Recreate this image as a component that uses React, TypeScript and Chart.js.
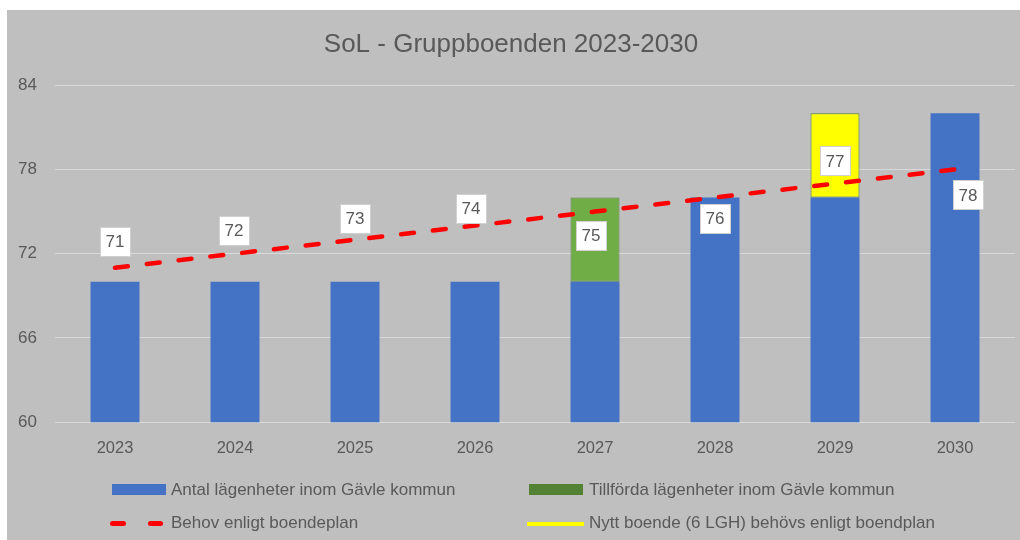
import React, { useEffect, useRef } from "react";
import { Chart, registerables } from "chart.js";

Chart.register(...registerables);

const categories = ["2023", "2024", "2025", "2026", "2027", "2028", "2029", "2030"];
const antalLgh = [70, 70, 70, 70, 70, 76, 76, 82];
const tillfordaLgh = [null, null, null, null, 6, null, null, null];
const nyttBoende = [null, null, null, null, null, null, 6, null];
const behov = [71, 72, 73, 74, 75, 76, 77, 78];
const yMin = 60;
const yMax = 84;
const yStep = 6;

const seriesNames = [
  "Antal lägenheter inom Gävle kommun",
  "Tillförda lägenheter inom Gävle kommun",
  "Behov enligt boendeplan",
  "Nytt boende (6 LGH) behövs enligt boendplan",
];

// label placement relative to each line point (dx, dy)
const labelOffsets: [number, number][] = [
  [0, -26],
  [-1, -23],
  [0, -21],
  [-4, -17],
  [-4, 24],
  [0, 21],
  [0, -22],
  [13, 26],
];

const FONT = "'Liberation Sans', Arial, sans-serif";
const TEXT = "#595959";

const labelPlugin = {
  id: "boxLabels",
  afterDatasetsDraw(chart: any) {
    const idx = chart.data.datasets.findIndex((d: any) => d.type === "line");
    if (idx < 0) return;
    const meta = chart.getDatasetMeta(idx);
    const ctx = chart.ctx;
    ctx.save();
    ctx.font = `17px ${FONT}`;
    ctx.textAlign = "center";
    ctx.textBaseline = "middle";
    meta.data.forEach((pt: any, i: number) => {
      const [dx, dy] = labelOffsets[i] || [0, -24];
      const cx = pt.x + dx;
      const cy = pt.y + dy;
      const w = 31;
      const h = 30;
      ctx.fillStyle = "#ffffff";
      ctx.fillRect(Math.round(cx - w / 2), Math.round(cy - h / 2), w, h);
      ctx.strokeStyle = "#d0d0d0";
      ctx.lineWidth = 1;
      ctx.strokeRect(Math.round(cx - w / 2) + 0.5, Math.round(cy - h / 2) + 0.5, w - 1, h - 1);
      ctx.fillStyle = TEXT;
      ctx.fillText(String(chart.data.datasets[idx].data[i]), cx, cy + 1);
    });
    ctx.restore();
  },
};

export default function App() {
  const ref = useRef<HTMLCanvasElement | null>(null);

  useEffect(() => {
    if (!ref.current) return;
    const chart = new Chart(ref.current, {
      type: "bar",
      data: {
        labels: categories,
        datasets: [
          {
            type: "line",
            label: seriesNames[2],
            data: behov,
            borderColor: "#ff0000",
            borderWidth: 4.5,
            borderDash: [13, 19],
            borderCapStyle: "round",
            pointRadius: 0,
            fill: false,
            stack: "line",
            order: 0,
          } as any,
          {
            label: seriesNames[0],
            data: antalLgh,
            backgroundColor: "#4472c4",
            stack: "bars",
            order: 1,
            categoryPercentage: 0.8,
            barPercentage: 0.51,
          },
          {
            label: seriesNames[1],
            data: tillfordaLgh,
            backgroundColor: "#70ad47",
            borderColor: "#548235",
            borderWidth: 1,
            borderSkipped: false,
            stack: "bars",
            order: 1,
            categoryPercentage: 0.8,
            barPercentage: 0.51,
          },
          {
            label: seriesNames[3],
            data: nyttBoende,
            backgroundColor: "#ffff00",
            borderColor: "#548235",
            borderWidth: 1,
            borderSkipped: false,
            stack: "bars",
            order: 1,
            categoryPercentage: 0.8,
            barPercentage: 0.51,
          },
        ],
      },
      options: {
        animation: false,
        responsive: false,
        devicePixelRatio: 1,
        layout: { padding: { left: 0, right: 5, top: 0, bottom: 66 } },
        plugins: {
          legend: { display: false },
          tooltip: { enabled: false },
          title: {
            display: true,
            text: "SoL - Gruppboenden 2023-2030",
            color: TEXT,
            font: { family: FONT, size: 26, weight: "normal" },
            padding: { top: 19, bottom: 25 },
          },
        },
        scales: {
          x: {
            stacked: true,
            grid: { display: false, drawTicks: false },
            border: { display: false },
            ticks: { color: TEXT, font: { family: FONT, size: 16.5 }, padding: 16 },
          },
          y: {
            stacked: true,
            min: yMin,
            max: yMax,
            grid: { color: "#d9d9d9", lineWidth: 1, drawTicks: false },
            border: { display: false },
            ticks: { stepSize: yStep, color: TEXT, font: { family: FONT, size: 17 }, padding: 18 },
            afterFit: (scale: any) => {
              scale.width = 48;
            },
          },
        },
      },
      plugins: [labelPlugin],
    });
    return () => chart.destroy();
  }, []);

  const legendText: React.CSSProperties = {
    position: "absolute",
    fontFamily: FONT,
    fontSize: 17,
    color: TEXT,
    lineHeight: "20px",
    whiteSpace: "nowrap",
  };

  return (
    <div
      style={{
        position: "fixed",
        left: 7,
        top: 10,
        width: 1013,
        height: 530,
        background: "#bfbfbf",
        overflow: "hidden",
      }}
    >
      <canvas ref={ref} width={1013} height={530} style={{ display: "block" }} />
      {/* legend row 1 */}
      <div style={{ position: "absolute", left: 105, top: 474, width: 54, height: 11, background: "#4472c4" }} />
      <div style={{ ...legendText, left: 164, top: 470 }}>{seriesNames[0]}</div>
      <div style={{ position: "absolute", left: 522, top: 474, width: 54, height: 11, background: "#548235" }} />
      <div style={{ ...legendText, left: 582, top: 470 }}>{seriesNames[1]}</div>
      {/* legend row 2 */}
      <div style={{ position: "absolute", left: 103, top: 511, width: 16, height: 5, background: "#ff0000", borderRadius: 2.5 }} />
      <div style={{ position: "absolute", left: 141, top: 511, width: 15, height: 5, background: "#ff0000", borderRadius: 2.5 }} />
      <div style={{ ...legendText, left: 164, top: 503 }}>{seriesNames[2]}</div>
      <div style={{ position: "absolute", left: 520, top: 512, width: 57, height: 4, background: "#ffff00" }} />
      <div style={{ ...legendText, left: 582, top: 503 }}>{seriesNames[3]}</div>
    </div>
  );
}
